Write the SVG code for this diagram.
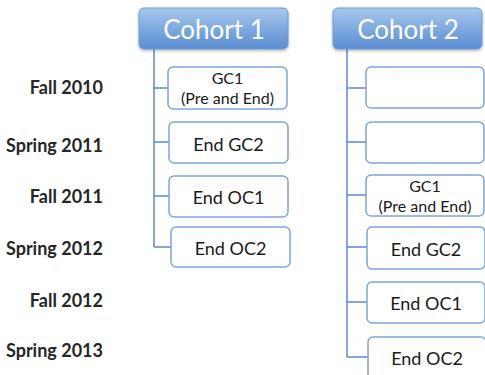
<svg xmlns="http://www.w3.org/2000/svg" width="485" height="375" viewBox="0 0 485 375">
<defs>
<linearGradient id="hg" x1="0" y1="0" x2="0" y2="1">
<stop offset="0" stop-color="#a9c8ec"/>
<stop offset="0.5" stop-color="#7eaae0"/>
<stop offset="1" stop-color="#5a8ccf"/>
</linearGradient>
<filter id="sh" x="-10%" y="-20%" width="120%" height="150%">
<feDropShadow dx="0" dy="1.5" stdDeviation="1.5" flood-color="#000" flood-opacity="0.3"/>
</filter>
<style>
.hdr{fill:url(#hg);stroke:#6f9bd6;stroke-width:1;filter:url(#sh)}
.ht{font-family:Lato,"Open Sans",sans-serif;font-size:26px;fill:#fff;text-anchor:middle}
.box{fill:#fff;stroke:#7ea7dc;stroke-width:1.5}
.bt{font-family:Lato,"Open Sans",sans-serif;font-size:18px;fill:#1a1a1a;text-anchor:middle}
.bt2{font-family:Lato,"Open Sans",sans-serif;font-size:16px;fill:#1a1a1a;text-anchor:middle}
.lb{font-family:Lato,"Open Sans",sans-serif;font-size:18px;font-weight:bold;fill:#262626;text-anchor:end}
.cn{fill:none;stroke:#5b8bcc;stroke-width:1.5}
</style>
</defs>
<g id="labels">
<text class="lb" x="103" y="94">Fall 2010</text>
<text class="lb" x="103" y="152">Spring 2011</text>
<text class="lb" x="103" y="203">Fall 2011</text>
<text class="lb" x="103" y="255">Spring 2012</text>
<text class="lb" x="103" y="307">Fall 2012</text>
<text class="lb" x="103" y="357">Spring 2013</text>
</g>
<g id="connectors">
<path class="cn" d="M154 49 V247 M154 88 H168 M154 142 H169 M154 196 H169 M154 247 H171"/>
<path class="cn" d="M347 49 V357 M347 88 H366 M347 142 H366 M347 195 H366 M347 247 H367 M347 302 H367 M347 357 H368"/>
</g>
<g id="cohort1">
<rect class="hdr" x="139" y="8" width="149" height="41" rx="5"/>
<text class="ht" x="214" y="39">Cohort 1</text>
</g>
<g id="cohort2">
<rect class="hdr" x="333" y="8" width="149" height="41" rx="5"/>
<text class="ht" x="408" y="39">Cohort 2</text>
</g>
<g id="c1-gc1">
<rect class="box" x="168" y="67" width="119" height="42" rx="5"/>
<text class="bt2" x="227.5" y="84">GC1</text>
<text class="bt2" x="227.5" y="103.5">(Pre and End)</text>
</g>
<g id="c1-endgc2">
<rect class="box" x="169" y="122" width="119" height="41" rx="5"/>
<text class="bt" x="228.5" y="151">End GC2</text>
</g>
<g id="c1-endoc1">
<rect class="box" x="169" y="176" width="119" height="41" rx="5"/>
<text class="bt" x="228.5" y="204">End OC1</text>
</g>
<g id="c1-endoc2">
<rect class="box" x="171" y="227" width="119" height="40" rx="5"/>
<text class="bt" x="230.5" y="255">End OC2</text>
</g>
<g id="c2-empty1">
<rect class="box" x="366" y="67" width="118" height="41" rx="5"/>
</g>
<g id="c2-empty2">
<rect class="box" x="366" y="122" width="118" height="41" rx="5"/>
</g>
<g id="c2-gc1">
<rect class="box" x="366" y="175" width="118" height="41" rx="5"/>
<text class="bt2" x="425" y="192">GC1</text>
<text class="bt2" x="425" y="211.5">(Pre and End)</text>
</g>
<g id="c2-endgc2">
<rect class="box" x="367" y="227" width="118" height="42" rx="5"/>
<text class="bt" x="426" y="256">End GC2</text>
</g>
<g id="c2-endoc1">
<rect class="box" x="367" y="282" width="118" height="41" rx="5"/>
<text class="bt" x="426" y="310">End OC1</text>
</g>
<g id="c2-endoc2">
<rect class="box" x="368" y="337" width="118" height="42" rx="5"/>
<text class="bt" x="427" y="365">End OC2</text>
</g>
</svg>
